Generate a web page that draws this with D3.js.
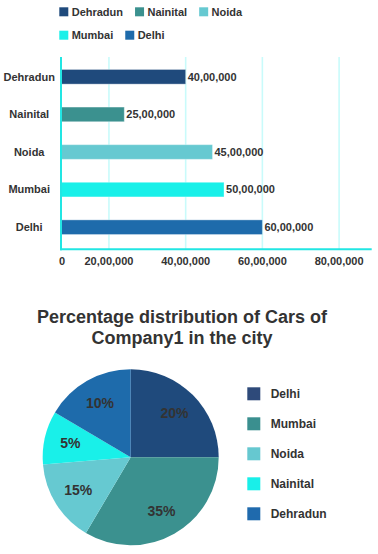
<!DOCTYPE html>
<html>
<head>
<meta charset="utf-8">
<script src="https://cdn.jsdelivr.net/npm/d3@7"></script>
<style>
  html, body { margin: 0; padding: 0; background: #ffffff; }
  svg { display: block; font-family: "Liberation Sans", Arial, Helvetica, sans-serif; }
</style>
</head>
<body>
<svg id="chart" width="378" height="554"></svg>
<script>
// ---------- Data ----------
const barCities = ["Dehradun", "Nainital", "Noida", "Mumbai", "Delhi"];
const barValues = [4000000, 2400000, 4700000, 5000000, 6000000];
const barLabels = ["40,00,000", "25,00,000", "45,00,000", "50,00,000", "60,00,000"];
const barColors = ["#1f4a7c", "#3b918f", "#66c9d1", "#19f0e9", "#1e6bab"];
const xTickValues = [0, 2000000, 4000000, 6000000, 8000000];
const xTickLabels = ["0", "20,00,000", "40,00,000", "60,00,000", "80,00,000"];

const pieTitle = ["Percentage distribution of Cars of", "Company1 in the city"];
const pieCities = ["Delhi", "Mumbai", "Noida", "Nainital", "Dehradun"];
const pieValues = [25, 33.5, 15.2, 9.8, 16.5];
const pieLabels = ["20%", "35%", "15%", "5%", "10%"];
const pieColors = ["#1f4a7c", "#3b918f", "#66c9d1", "#19f0e9", "#1e6bab"];
const pieLegendColors = ["#2e4a7a", "#3a8f8f", "#66c8d0", "#19efe9", "#1f6aad"];

const textColor = "#333333";
const svg = d3.select("#chart");

// ---------- Bar chart ----------
const plotTop = 57, plotBottom = 249.3, plotLeft = 61, plotRight = 371.7;
const x = d3.scaleLinear().domain([750000, 8850000]).range([plotLeft, plotRight]).clamp(true);
const y = d3.scaleBand().domain(barCities).range([58, 246]).paddingInner(0.61).paddingOuter(0.305);

// grid
svg.append("g").selectAll("line").data(xTickValues.slice(1)).join("line")
  .attr("x1", d => x(d)).attr("x2", d => x(d))
  .attr("y1", plotTop).attr("y2", plotBottom)
  .attr("stroke", "#c9fbfb").attr("stroke-width", 1.6);

// bars
svg.append("g").selectAll("rect").data(barCities).join("rect")
  .attr("x", x(0))
  .attr("y", d => y(d))
  .attr("width", (d, i) => x(barValues[i]) - x(0))
  .attr("height", y.bandwidth())
  .attr("fill", (d, i) => barColors[i])
  .attr("stroke", "rgba(255,255,255,0.35)").attr("stroke-width", 1);

// axes lines
svg.append("line").attr("x1", plotLeft).attr("x2", plotLeft)
  .attr("y1", plotTop).attr("y2", plotBottom + 1)
  .attr("stroke", "#22e6e3").attr("stroke-width", 2);
svg.append("line").attr("x1", plotLeft - 1).attr("x2", plotRight)
  .attr("y1", plotBottom).attr("y2", plotBottom)
  .attr("stroke", "#22e6e3").attr("stroke-width", 2);

// value labels
svg.append("g").selectAll("text").data(barCities).join("text")
  .attr("x", (d, i) => x(barValues[i]) + 2)
  .attr("y", d => y(d) + y.bandwidth() / 2)
  .attr("dy", "0.35em")
  .attr("font-size", 11).attr("font-weight", "bold").attr("fill", textColor)
  .text((d, i) => barLabels[i]);

// category labels
svg.append("g").selectAll("text").data(barCities).join("text")
  .attr("x", 29.2)
  .attr("y", d => y(d) + y.bandwidth() / 2)
  .attr("dy", "0.35em")
  .attr("text-anchor", "middle")
  .attr("font-size", 11).attr("font-weight", "bold").attr("fill", textColor)
  .text(d => d);

// x tick labels
svg.append("g").selectAll("text").data(xTickValues).join("text")
  .attr("x", (d, i) => x(d) + (i === 0 ? 1 : 0))
  .attr("y", 265)
  .attr("text-anchor", "middle")
  .attr("font-size", 11).attr("font-weight", "bold").attr("fill", textColor)
  .text((d, i) => xTickLabels[i]);

// top legend
const legend = svg.append("g");
let lx = 59.3, ly = 7.3;
const legendStart = 59.3, legendMaxX = 300, rowGap = 23.4;
barCities.forEach((c, i) => {
  const g = legend.append("g");
  const t = g.append("text")
    .attr("font-size", 11).attr("font-weight", "bold").attr("fill", textColor)
    .attr("dy", "0.35em").text(c);
  const w = t.node().getComputedTextLength();
  const itemW = 12.4 + w + 12;
  if (lx + 12.4 + w > legendMaxX) { lx = legendStart; ly += rowGap; }
  g.append("rect").attr("x", lx).attr("y", ly).attr("width", 9).attr("height", 9)
    .attr("fill", barColors[i]);
  t.attr("x", lx + 12.4).attr("y", ly + 4.7);
  lx += itemW;
});

// ---------- Pie chart ----------
svg.append("g").selectAll("text").data(pieTitle).join("text")
  .attr("x", 182).attr("y", (d, i) => 322.7 + i * 21)
  .attr("text-anchor", "middle")
  .attr("font-size", 18).attr("font-weight", "bold").attr("fill", textColor)
  .text(d => d);

const cx = 130.7, cy = 457.3, r = 88;
const pie = d3.pie().sort(null).value(d => d);
const arcs = pie(pieValues);
const arc = d3.arc().innerRadius(0).outerRadius(r);
const labelArc = d3.arc().innerRadius(62).outerRadius(62);
const pg = svg.append("g").attr("transform", `translate(${cx},${cy})`);
pg.selectAll("path").data(arcs).join("path")
  .attr("d", arc).attr("fill", (d, i) => pieColors[i]);
pg.selectAll("text").data(arcs).join("text")
  .attr("transform", d => `translate(${labelArc.centroid(d)})`)
  .attr("text-anchor", "middle").attr("dy", "0.35em")
  .attr("font-size", 14).attr("font-weight", "bold").attr("fill", textColor)
  .text((d, i) => pieLabels[i]);

// pie legend
const pl = svg.append("g").selectAll("g").data(pieCities).join("g")
  .attr("transform", (d, i) => `translate(247.3, ${387.3 + i * 30})`);
pl.append("rect").attr("width", 13).attr("height", 13)
  .attr("fill", (d, i) => pieLegendColors[i]);
pl.append("text").attr("x", 23.4).attr("y", 6.5).attr("dy", "0.35em")
  .attr("font-size", 12).attr("font-weight", "bold").attr("fill", textColor)
  .text(d => d);
</script>
</body>
</html>
